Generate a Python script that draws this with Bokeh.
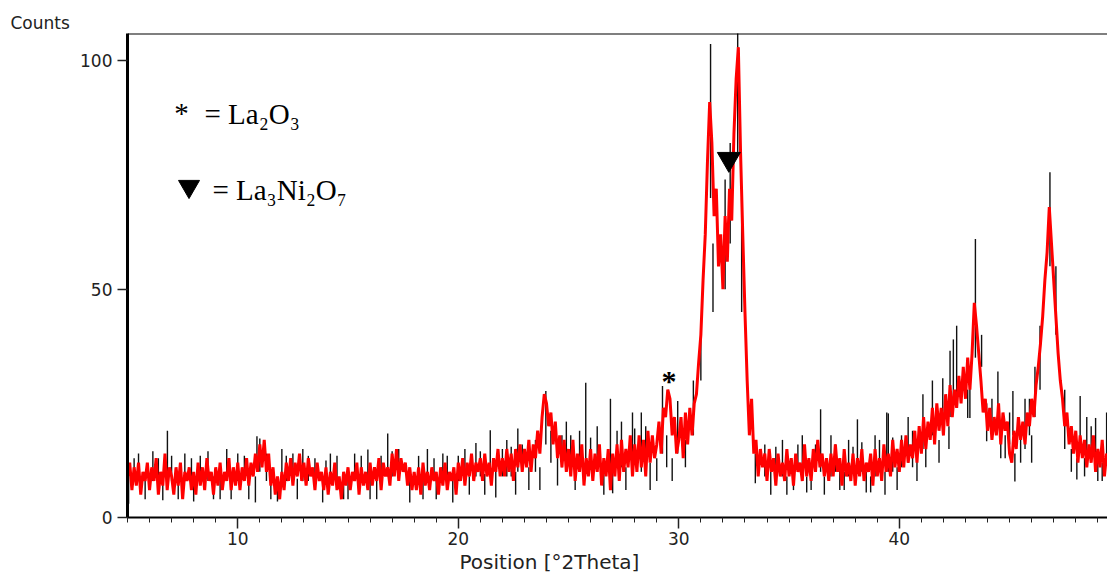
import numpy as np
from bokeh.plotting import figure
from bokeh.models import Range1d, SingleIntervalTicker, FixedTicker, Span, Label, Title
from bokeh.embed import file_html
from bokeh.resources import INLINE

# ---------------- data ----------------
x_start = 5.0
x_step = 0.1
# red trace, counts every 0.1 deg 2Theta from 5.0 to 49.5 (one row per degree)
red_counts = [
    9, 12, 6, 11, 7, 12, 5, 10, 8, 12,        # 5
    6, 11, 8, 13, 5, 10, 7, 14, 6, 11,        # 6
    9, 5, 11, 7, 12, 4, 10, 8, 11, 6,         # 7
    10, 5, 12, 7, 11, 6, 13, 8, 10, 5,        # 8
    11, 7, 12, 6, 10, 8, 13, 6, 11, 7,        # 9
    12, 6, 11, 8, 13, 7, 12, 9, 14, 10,       # 10
    16, 11, 17, 10, 14, 7, 11, 5, 9, 4,       # 11
    10, 6, 12, 8, 13, 7, 12, 9, 14, 8,        # 12
    12, 7, 13, 9, 11, 6, 12, 8, 10, 6,        # 13
    11, 5, 10, 7, 12, 6, 9, 4, 10, 7,         # 14
    11, 6, 10, 8, 12, 5, 11, 7, 10, 6,        # 15
    12, 7, 11, 8, 13, 6, 12, 9, 11, 7,        # 16
    14, 9, 15, 8, 13, 10, 12, 7, 11, 6,       # 17
    10, 6, 11, 5, 12, 7, 10, 6, 11, 8,        # 18
    10, 5, 11, 7, 12, 6, 10, 8, 11, 5,        # 19
    12, 8, 13, 7, 12, 9, 14, 8, 12, 10,       # 20
    13, 8, 14, 9, 12, 7, 13, 10, 15, 9,       # 21
    13, 9, 15, 10, 14, 8, 15, 11, 16, 10,     # 22
    15, 11, 17, 10, 16, 13, 19, 14, 22, 27,   # 23
    25, 20, 23, 16, 21, 13, 18, 11, 17, 10,   # 24
    15, 9, 17, 8, 14, 10, 16, 7, 13, 9,       # 25
    15, 8, 14, 10, 16, 7, 13, 9, 15, 6,       # 26
    14, 9, 16, 8, 17, 10, 15, 11, 18, 9,      # 27
    16, 10, 18, 11, 17, 9, 19, 12, 18, 13,    # 28
    16, 21, 14, 24, 22, 28, 26, 18, 22, 14,   # 29
    17, 22, 13, 23, 16, 24, 18, 25, 27, 34,   # 30
    40, 52, 62, 78, 91, 82, 66, 72, 55, 62,   # 31
    50, 66, 56, 72, 65, 84, 96, 103, 80, 62,  # 32
    45, 30, 18, 26, 14, 17, 9, 15, 11, 14,    # 33
    8, 15, 10, 13, 7, 14, 9, 12, 8, 15,       # 34
    9, 13, 7, 14, 10, 12, 8, 16, 9, 13,       # 35
    8, 15, 10, 17, 11, 14, 9, 13, 8, 14,      # 36
    9, 16, 10, 13, 7, 15, 9, 12, 8, 14,       # 37
    7, 13, 9, 15, 8, 12, 10, 14, 7, 15,       # 38
    9, 13, 8, 16, 10, 14, 9, 17, 11, 15,      # 39
    10, 17, 11, 18, 12, 16, 13, 19, 12, 20,   # 40
    14, 22, 15, 21, 17, 24, 16, 25, 19, 24,   # 41
    18, 27, 20, 29, 22, 28, 24, 31, 25, 33,   # 42
    26, 35, 28, 36, 47, 42, 36, 30, 23, 26,   # 43
    19, 24, 17, 22, 18, 25, 16, 23, 19, 21,   # 44
    14, 12, 19, 15, 22, 17, 21, 16, 23, 20,   # 45
    26, 22, 29, 33, 38, 44, 52, 58, 68, 60,   # 46
    52, 44, 36, 30, 26, 20, 23, 16, 20, 14,   # 47
    19, 12, 18, 13, 17, 11, 16, 12, 18, 10,   # 48
    15, 11, 17, 9, 14, 12,                    # 49.0 - 49.5
]

# black raw-data spikes that stick out of the red trace: position, low, high
spike_pos = [5.05, 5.3, 5.5, 5.8, 6.15, 6.4, 6.6, 6.81, 7.0, 7.3, 7.6, 7.9, 8.0, 8.3, 8.65, 8.9,
             9.2, 9.5, 9.7, 10.0, 10.3, 10.5, 10.8, 10.87, 11.0, 11.3, 11.5, 11.8, 12.0, 12.2,
             12.5, 12.7, 12.95, 13.2, 13.5, 13.85, 14.0, 14.2, 14.5, 14.8, 15.0, 15.3, 15.6,
             15.9, 16.0, 16.3, 16.5, 16.8, 17.0, 17.3, 17.8, 18.2, 18.4, 18.6, 18.9, 19.0, 19.3,
             19.5, 19.75, 20.0, 20.3, 20.5, 20.8, 21.0, 21.2, 21.45, 21.7, 22.0, 22.2, 22.4,
             22.6, 22.7, 22.9, 23.2, 23.5, 23.7, 23.97, 24.2, 24.5, 24.7, 24.9, 25.1, 25.3,
             25.5, 25.78, 26.0, 26.3, 26.6, 26.9, 27.0, 27.2, 27.4, 27.6, 27.9, 28.0, 28.3,
             28.5, 28.7, 29.0, 29.26, 29.45, 29.7, 29.95, 30.3, 30.66, 31.0, 31.44, 31.55,
             32.1, 32.33, 32.67, 32.85, 33.47, 33.9, 34.17, 34.4, 34.7, 34.9, 35.2, 35.4, 35.6,
             35.8, 36.0, 36.2, 36.43, 36.6, 36.9, 37.1, 37.3, 37.5, 37.7, 37.9, 38.1, 38.3,
             38.5, 38.7, 38.9, 39.1, 39.35, 39.43, 39.5, 39.7, 39.9, 40.1, 40.4, 40.6, 40.8,
             41.07, 41.2, 41.5, 41.8, 41.97, 42.25, 42.3, 42.45, 42.6, 43.1, 43.2, 43.45,
             43.73, 43.96, 44.2, 44.47, 44.6, 44.8, 45.0, 45.15, 45.24, 45.5, 45.7, 45.9,
             46.0, 46.15, 46.38, 46.83, 47.1, 47.5, 47.8, 48.05, 48.2, 48.4, 48.5, 48.7,
             48.9, 49.0, 49.2, 49.4]
spike_low = [3, 8, 8, 4, 8, 8, 3.8, 8, 8, 4, 8, 8, 3.5, 8, 8, 4,
             4, 8, 4, 8, 8, 4, 3.3, 10, 10, 8, 4, 3.5, 8, 8,
             8, 4, 8, 8, 8, 3.3, 8, 8, 8, 4, 4, 8, 8,
             8, 4, 4, 8, 9, 9, 9, 3.3, 8, 4, 8, 8, 4, 8,
             8, 3.3, 8, 9, 5, 9, 9, 5, 9, 4.4, 9, 9, 9,
             5, 10, 10, 6, 10, 6, 16, 12, 7, 11, 12, 11, 6,
             12, 10, 11, 12, 5, 10, 5.3, 12, 11, 6, 10, 12, 10,
             12, 6, 8, 14, 11, 8, 14, 11, 18, 30, 70, 45,
             50, 60, 80, 45, 7.5, 9, 5, 10, 9, 5, 6, 10, 9,
             5.5, 6, 10, 10, 5, 9, 10, 6, 6, 9, 10, 10, 10,
             5.5, 5.5, 9, 10, 5, 10, 10, 10, 6, 11, 12, 11, 8,
             15, 11, 18, 12, 18, 15, 22, 24, 26, 21.8, 21.8, 35,
             33, 16.7, 18, 20, 13, 13, 16, 18, 7.9, 12, 15, 18,
             12, 22, 28, 55, 40, 15, 10, 8.3, 15, 9, 12, 14,
             13, 8, 8, 13]
spike_high = [11, 13, 14, 9, 14.5, 13, 8, 19, 13.5, 9, 14, 13, 9, 13.5, 14.5, 9,
              9, 15, 8.5, 14, 13.5, 9, 9, 17.8, 17.3, 14, 9, 8, 15, 13.5,
              14, 8.5, 15, 13.5, 13, 8, 12.5, 14, 13.5, 9, 8.5, 14, 13.5,
              14.9, 8.5, 9, 13.5, 18.4, 14.5, 15, 9, 13.5, 8, 15, 13, 9, 14,
              13.5, 9, 13.5, 15, 9, 16.3, 14.5, 9.5, 19.1, 10, 15, 17, 15.5,
              10, 19.5, 16, 11, 17, 11, 27.7, 19, 13, 18, 21, 18, 12,
              19, 29.5, 17.5, 20, 10, 26, 11, 19, 21, 11, 23, 19.5, 23,
              20, 12, 13, 28.8, 18, 13, 25.5, 17, 30, 43, 103.7, 60,
              74, 82, 108, 70, 14, 16, 10, 15.5, 17, 9, 10, 16, 18,
              9, 11, 16, 23.7, 9, 18, 16, 11, 10, 17, 15.5, 21.5, 16.5,
              10, 9, 18, 17, 10, 23, 22.8, 17.5, 11, 18, 22, 19, 13,
              27, 15, 30, 17, 30.5, 20, 36.5, 39, 42, 28, 30, 61,
              40, 25, 26, 32, 18, 18, 23, 27.7, 14, 17, 26, 26,
              18, 33, 42, 75.6, 55, 28, 15, 13, 26.6, 13, 22, 20,
              21.8, 12, 12, 23]

# phase markers
star_peak_x = [29.55]
star_peak_y = [30.1]
tri_peak_x = [32.27]
tri_peak_y = [78.5]

x_major_interval = 10
y_ticks = [0, 50, 100]
y_max = 106

x_pos = np.round(x_start + x_step * np.arange(len(red_counts)), 2)

# ---------------- figure ----------------
p = figure(width=1107, height=574, output_backend="svg", toolbar_location=None,
           x_range=Range1d(5.0, 49.44), y_range=Range1d(0, y_max),
           min_border_left=127, min_border_right=0, min_border_top=33, min_border_bottom=57)
p.outline_line_color = None
p.xgrid.visible = False
p.ygrid.visible = False
p.background_fill_color = "white"
p.border_fill_color = "white"

# black spikes (raw data) underneath, red trace on top
p.segment(x0=spike_pos, y0=spike_low, x1=spike_pos, y1=spike_high, line_color="#111111", line_width=1.4)
p.line(x_pos, red_counts, line_color="#ff0000", line_width=3)

# top border
p.add_layout(Span(location=y_max, dimension="width", line_color="black", line_width=2))

# axes
p.xaxis.ticker = SingleIntervalTicker(interval=x_major_interval, num_minor_ticks=10)
p.yaxis.ticker = FixedTicker(ticks=y_ticks)
for ax in (p.xaxis, p.yaxis):
    ax.major_label_text_font = "DejaVu Sans"
    ax.major_label_text_font_size = "17px"
    ax.major_label_text_color = "#222222"
    ax.major_tick_in = 0
    ax.minor_tick_in = 0
    ax.major_tick_line_color = "#222222"
    ax.minor_tick_line_color = "#222222"
    ax.axis_line_color = "black"
p.xaxis.axis_line_width = 2
p.xaxis.major_tick_out = 11
p.xaxis.minor_tick_out = 5
p.xaxis.major_tick_line_width = 1.5
p.xaxis.major_label_standoff = 3
p.yaxis.axis_line_width = 3
p.yaxis.major_tick_out = 10
p.yaxis.major_tick_line_width = 1.5
p.yaxis.minor_tick_line_color = None
p.yaxis.major_label_standoff = 5

# axis titles as side-panel titles (not clipped by the frame)
p.add_layout(Title(text="Counts", align="left", offset=-117, text_font="DejaVu Sans",
                   text_font_size="17px", text_font_style="normal", text_color="#222222",
                   standoff=2), "above")
p.add_layout(Title(text="Position [°2Theta]", align="left", offset=332, text_font="DejaVu Sans",
                   text_font_size="20px", text_font_style="normal", text_color="#222222",
                   standoff=0), "below")

# peak markers
for sx, sy in zip(star_peak_x, star_peak_y):
    p.add_layout(Label(x=sx, y=sy, text="*", text_align="center", text_baseline="alphabetic",
                       text_font="Liberation Serif", text_font_size="30px", text_font_style="bold",
                       text_color="black"))
p.scatter(tri_peak_x, tri_peak_y, marker="inverted_triangle", size=23, color="black")

# legend
p.add_layout(Label(x=7.45, y=88.5, text="*", text_align="center", text_baseline="alphabetic",
                   text_font="Liberation Serif", text_font_size="29px", text_color="black"))
p.add_layout(Label(x=8.49, y=88.3, text="= La₂O₃", text_align="left", text_baseline="alphabetic",
                   text_font="Liberation Serif", text_font_size="29px", text_color="black"))
p.scatter([7.79], [72.5], marker="inverted_triangle", size=21, color="black")
p.add_layout(Label(x=8.85, y=71.8, text="= La₃Ni₂O₇", text_align="left", text_baseline="alphabetic",
                   text_font="Liberation Serif", text_font_size="29px", text_color="black"))

open("out.html", "w").write(file_html(p, INLINE))
